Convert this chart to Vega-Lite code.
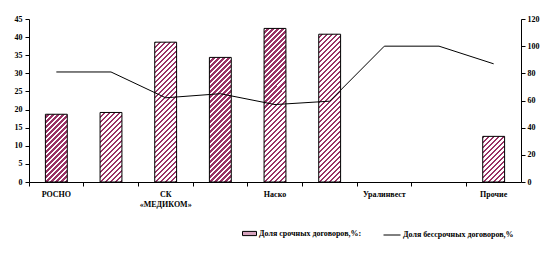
{
  "$schema": "https://vega.github.io/schema/vega-lite/v6.json",
  "autosize": "none",
  "padding": {"left": 29, "top": 19, "right": 37, "bottom": 72},
  "width": 492,
  "height": 163,
  "background": "white",
  "config": {
    "view": {"stroke": null},
    "font": "Liberation Serif",
    "axis": {
      "labelFont": "Liberation Serif",
      "labelFontWeight": "bold",
      "labelFontSize": 8,
      "labelColor": "black",
      "domainColor": "black",
      "tickColor": "black",
      "grid": false,
      "title": null,
      "labelOverlap": false,
      "labelFlush": false
    },
    "legend": {
      "orient": "none",
      "direction": "horizontal",
      "title": null,
      "padding": 0,
      "labelFont": "Liberation Serif",
      "labelFontWeight": "bold",
      "labelFontSize": 8,
      "labelColor": "black",
      "labelOffset": 2,
      "labelLimit": 0
    }
  },
  "data": {
    "values": [
      {"company": "РОСНО", "bar": 18.7, "line": 81},
      {"company": "Компания 2", "bar": 19.2, "line": 81},
      {"company": "СК «МЕДИКОМ»", "bar": 38.6, "line": 62},
      {"company": "Компания 4", "bar": 34.4, "line": 65},
      {"company": "Наско", "bar": 42.4, "line": 57},
      {"company": "Компания 6", "bar": 40.8, "line": 59.5},
      {"company": "Уралинвест", "bar": null, "line": 100},
      {"company": "Компания 8", "bar": null, "line": 100},
      {"company": "Прочие", "bar": 12.6, "line": 87}
    ]
  },
  "encoding": {
    "x": {
      "field": "company",
      "type": "nominal",
      "sort": null,
      "scale": {
        "domain": ["РОСНО", "Компания 2", "СК «МЕДИКОМ»", "Компания 4", "Наско", "Компания 6", "Уралинвест", "Компания 8", "Прочие"],
        "paddingInner": 0,
        "paddingOuter": 0
      },
      "axis": {
        "bandPosition": 0,
        "labelAngle": 0,
        "tickSize": 4,
        "labelPadding": 4,
        "labelLimit": 0,
        "labelExpr": "test(/^Компания/, datum.value) ? '' : (datum.value == 'СК «МЕДИКОМ»' ? ['СК', '«МЕДИКОМ»'] : datum.value)"
      }
    }
  },
  "layer": [
    {
      "transform": [{"filter": "datum.bar != null"}],
      "layer": [
        {
          "mark": {
            "type": "bar",
            "width": {"band": 0.4},
            "stroke": null,
            "fill": {
              "gradient": "linear",
              "x1": 0, "y1": 0, "x2": 0.1495, "y2": 1.1141,
              "stops": [
                {"offset": 0, "color": "#ffffff"}, {"offset": 0.0135, "color": "#ffffff"}, {"offset": 0.0135, "color": "#993366"}, {"offset": 0.027, "color": "#993366"},
                {"offset": 0.027, "color": "#ffffff"}, {"offset": 0.0405, "color": "#ffffff"}, {"offset": 0.0405, "color": "#993366"}, {"offset": 0.0541, "color": "#993366"},
                {"offset": 0.0541, "color": "#ffffff"}, {"offset": 0.0676, "color": "#ffffff"}, {"offset": 0.0676, "color": "#993366"}, {"offset": 0.0811, "color": "#993366"},
                {"offset": 0.0811, "color": "#ffffff"}, {"offset": 0.0946, "color": "#ffffff"}, {"offset": 0.0946, "color": "#993366"}, {"offset": 0.1081, "color": "#993366"},
                {"offset": 0.1081, "color": "#ffffff"}, {"offset": 0.1216, "color": "#ffffff"}, {"offset": 0.1216, "color": "#993366"}, {"offset": 0.1351, "color": "#993366"},
                {"offset": 0.1351, "color": "#ffffff"}, {"offset": 0.1486, "color": "#ffffff"}, {"offset": 0.1486, "color": "#993366"}, {"offset": 0.1622, "color": "#993366"},
                {"offset": 0.1622, "color": "#ffffff"}, {"offset": 0.1757, "color": "#ffffff"}, {"offset": 0.1757, "color": "#993366"}, {"offset": 0.1892, "color": "#993366"},
                {"offset": 0.1892, "color": "#ffffff"}, {"offset": 0.2027, "color": "#ffffff"}, {"offset": 0.2027, "color": "#993366"}, {"offset": 0.2162, "color": "#993366"},
                {"offset": 0.2162, "color": "#ffffff"}, {"offset": 0.2297, "color": "#ffffff"}, {"offset": 0.2297, "color": "#993366"}, {"offset": 0.2432, "color": "#993366"},
                {"offset": 0.2432, "color": "#ffffff"}, {"offset": 0.2568, "color": "#ffffff"}, {"offset": 0.2568, "color": "#993366"}, {"offset": 0.2703, "color": "#993366"},
                {"offset": 0.2703, "color": "#ffffff"}, {"offset": 0.2838, "color": "#ffffff"}, {"offset": 0.2838, "color": "#993366"}, {"offset": 0.2973, "color": "#993366"},
                {"offset": 0.2973, "color": "#ffffff"}, {"offset": 0.3108, "color": "#ffffff"}, {"offset": 0.3108, "color": "#993366"}, {"offset": 0.3243, "color": "#993366"},
                {"offset": 0.3243, "color": "#ffffff"}, {"offset": 0.3378, "color": "#ffffff"}, {"offset": 0.3378, "color": "#993366"}, {"offset": 0.3514, "color": "#993366"},
                {"offset": 0.3514, "color": "#ffffff"}, {"offset": 0.3649, "color": "#ffffff"}, {"offset": 0.3649, "color": "#993366"}, {"offset": 0.3784, "color": "#993366"},
                {"offset": 0.3784, "color": "#ffffff"}, {"offset": 0.3919, "color": "#ffffff"}, {"offset": 0.3919, "color": "#993366"}, {"offset": 0.4054, "color": "#993366"},
                {"offset": 0.4054, "color": "#ffffff"}, {"offset": 0.4189, "color": "#ffffff"}, {"offset": 0.4189, "color": "#993366"}, {"offset": 0.4324, "color": "#993366"},
                {"offset": 0.4324, "color": "#ffffff"}, {"offset": 0.4459, "color": "#ffffff"}, {"offset": 0.4459, "color": "#993366"}, {"offset": 0.4595, "color": "#993366"},
                {"offset": 0.4595, "color": "#ffffff"}, {"offset": 0.473, "color": "#ffffff"}, {"offset": 0.473, "color": "#993366"}, {"offset": 0.4865, "color": "#993366"},
                {"offset": 0.4865, "color": "#ffffff"}, {"offset": 0.5, "color": "#ffffff"}, {"offset": 0.5, "color": "#993366"}, {"offset": 0.5135, "color": "#993366"},
                {"offset": 0.5135, "color": "#ffffff"}, {"offset": 0.527, "color": "#ffffff"}, {"offset": 0.527, "color": "#993366"}, {"offset": 0.5405, "color": "#993366"},
                {"offset": 0.5405, "color": "#ffffff"}, {"offset": 0.5541, "color": "#ffffff"}, {"offset": 0.5541, "color": "#993366"}, {"offset": 0.5676, "color": "#993366"},
                {"offset": 0.5676, "color": "#ffffff"}, {"offset": 0.5811, "color": "#ffffff"}, {"offset": 0.5811, "color": "#993366"}, {"offset": 0.5946, "color": "#993366"},
                {"offset": 0.5946, "color": "#ffffff"}, {"offset": 0.6081, "color": "#ffffff"}, {"offset": 0.6081, "color": "#993366"}, {"offset": 0.6216, "color": "#993366"},
                {"offset": 0.6216, "color": "#ffffff"}, {"offset": 0.6351, "color": "#ffffff"}, {"offset": 0.6351, "color": "#993366"}, {"offset": 0.6486, "color": "#993366"},
                {"offset": 0.6486, "color": "#ffffff"}, {"offset": 0.6622, "color": "#ffffff"}, {"offset": 0.6622, "color": "#993366"}, {"offset": 0.6757, "color": "#993366"},
                {"offset": 0.6757, "color": "#ffffff"}, {"offset": 0.6892, "color": "#ffffff"}, {"offset": 0.6892, "color": "#993366"}, {"offset": 0.7027, "color": "#993366"},
                {"offset": 0.7027, "color": "#ffffff"}, {"offset": 0.7162, "color": "#ffffff"}, {"offset": 0.7162, "color": "#993366"}, {"offset": 0.7297, "color": "#993366"},
                {"offset": 0.7297, "color": "#ffffff"}, {"offset": 0.7432, "color": "#ffffff"}, {"offset": 0.7432, "color": "#993366"}, {"offset": 0.7568, "color": "#993366"},
                {"offset": 0.7568, "color": "#ffffff"}, {"offset": 0.7703, "color": "#ffffff"}, {"offset": 0.7703, "color": "#993366"}, {"offset": 0.7838, "color": "#993366"},
                {"offset": 0.7838, "color": "#ffffff"}, {"offset": 0.7973, "color": "#ffffff"}, {"offset": 0.7973, "color": "#993366"}, {"offset": 0.8108, "color": "#993366"},
                {"offset": 0.8108, "color": "#ffffff"}, {"offset": 0.8243, "color": "#ffffff"}, {"offset": 0.8243, "color": "#993366"}, {"offset": 0.8378, "color": "#993366"},
                {"offset": 0.8378, "color": "#ffffff"}, {"offset": 0.8514, "color": "#ffffff"}, {"offset": 0.8514, "color": "#993366"}, {"offset": 0.8649, "color": "#993366"},
                {"offset": 0.8649, "color": "#ffffff"}, {"offset": 0.8784, "color": "#ffffff"}, {"offset": 0.8784, "color": "#993366"}, {"offset": 0.8919, "color": "#993366"},
                {"offset": 0.8919, "color": "#ffffff"}, {"offset": 0.9054, "color": "#ffffff"}, {"offset": 0.9054, "color": "#993366"}, {"offset": 0.9189, "color": "#993366"},
                {"offset": 0.9189, "color": "#ffffff"}, {"offset": 0.9324, "color": "#ffffff"}, {"offset": 0.9324, "color": "#993366"}, {"offset": 0.9459, "color": "#993366"},
                {"offset": 0.9459, "color": "#ffffff"}, {"offset": 0.9595, "color": "#ffffff"}, {"offset": 0.9595, "color": "#993366"}, {"offset": 0.973, "color": "#993366"},
                {"offset": 0.973, "color": "#ffffff"}, {"offset": 0.9865, "color": "#ffffff"}, {"offset": 0.9865, "color": "#993366"}, {"offset": 1, "color": "#993366"}
              ]
            }
          },
          "encoding": {
            "y": {
              "datum": 45,
              "type": "quantitative",
              "scale": {"domain": [0, 45], "nice": false},
              "axis": {"values": [0, 5, 10, 15, 20, 25, 30, 35, 40, 45], "tickSize": 4, "labelPadding": 3, "title": null}
            },
            "y2": {"datum": 0}
          }
        },
        {
          "mark": {"type": "bar", "width": {"band": 0.44}, "fill": "white", "stroke": null},
          "encoding": {
            "y": {
              "field": "bar",
              "type": "quantitative",
              "axis": {"values": [0, 5, 10, 15, 20, 25, 30, 35, 40, 45], "tickSize": 4, "labelPadding": 3, "title": null}
            },
            "y2": {"datum": 45}
          }
        },
        {
          "mark": {"type": "bar", "width": {"band": 0.4}, "fill": "transparent", "stroke": "black", "strokeWidth": 1},
          "encoding": {
            "y": {
              "field": "bar",
              "type": "quantitative",
              "axis": {"values": [0, 5, 10, 15, 20, 25, 30, 35, 40, 45], "tickSize": 4, "labelPadding": 3, "title": null}
            },
            "y2": {"datum": 0}
          }
        },
        {
          "mark": {"type": "bar", "width": {"band": 0.4}, "stroke": null},
          "encoding": {
            "y": {
              "datum": 0,
              "type": "quantitative",
              "axis": {"values": [0, 5, 10, 15, 20, 25, 30, 35, 40, 45], "tickSize": 4, "labelPadding": 3, "title": null}
            },
            "y2": {"datum": 0},
            "fill": {
              "datum": "Доля срочных договоров,%:",
              "type": "nominal",
              "scale": {"range": ["#d6a3bd"]},
              "legend": {
                "legendX": 213,
                "legendY": 207,
                "symbolType": "M-1,-0.3H1V0.3H-1Z",
                "symbolSize": 196,
                "symbolStrokeColor": "black",
                "symbolStrokeWidth": 1
              }
            }
          }
        }
      ]
    },
    {
      "mark": {"type": "line", "strokeWidth": 1},
      "encoding": {
        "y": {
          "field": "line",
          "type": "quantitative",
          "scale": {"domain": [0, 120], "nice": false},
          "axis": {"orient": "right", "values": [0, 20, 40, 60, 80, 100, 120], "tickSize": 4, "labelPadding": 2, "title": null}
        },
        "stroke": {
          "datum": "Доля бессрочных договоров,%",
          "type": "nominal",
          "scale": {"range": ["black"]},
          "legend": {
            "legendX": 354,
            "legendY": 207,
            "symbolType": "stroke",
            "symbolSize": 289,
            "symbolStrokeColor": "black",
            "symbolStrokeWidth": 1
          }
        }
      }
    }
  ],
  "resolve": {"scale": {"y": "independent"}}
}
